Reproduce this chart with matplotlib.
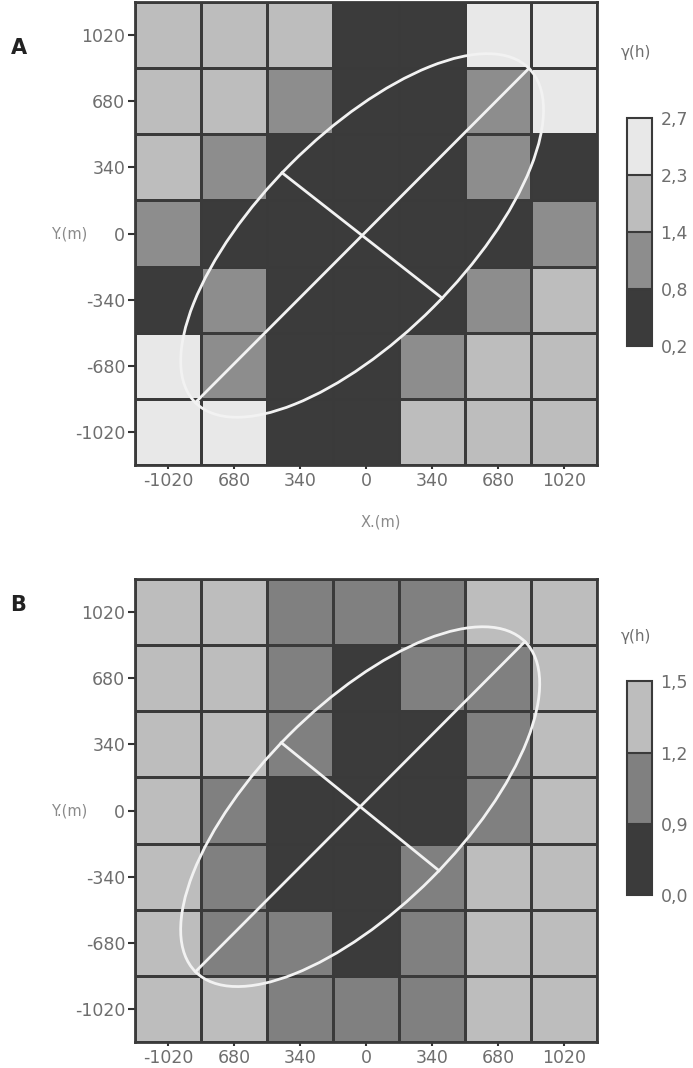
import numpy as np
import matplotlib
matplotlib.use("Agg")
import matplotlib.pyplot as plt
from matplotlib.colors import ListedColormap, BoundaryNorm
from matplotlib.patches import Ellipse

# ---------------- data ----------------
lags = [-1020, -680, -340, 0, 340, 680, 1020]
x_tick_labels = ["-1020", "680", "340", "0", "340", "680", "1020"]
y_tick_labels = ["-1020", "-680", "-340", "0", "340", "680", "1020"]

# Panel A: semivariogram surface gamma(h), rows from top (Y=1020) to bottom (Y=-1020)
gamma_A = [
    [1.85, 1.85, 1.85, 0.50, 0.50, 2.50, 2.50],
    [1.85, 1.85, 1.10, 0.50, 0.50, 1.10, 2.50],
    [1.85, 1.10, 0.50, 0.50, 0.50, 1.10, 0.50],
    [1.10, 0.50, 0.50, 0.50, 0.50, 0.50, 1.10],
    [0.50, 1.10, 0.50, 0.50, 0.50, 1.10, 1.85],
    [2.50, 1.10, 0.50, 0.50, 1.10, 1.85, 1.85],
    [2.50, 2.50, 0.50, 0.50, 1.85, 1.85, 1.85],
]
levels_A = [0.2, 0.8, 1.4, 2.3, 2.7]
level_labels_A = ["0,2", "0,8", "1,4", "2,3", "2,7"]

# Panel B
gamma_B = [
    [1.35, 1.35, 1.05, 1.05, 1.05, 1.35, 1.35],
    [1.35, 1.35, 1.05, 0.45, 1.05, 1.05, 1.35],
    [1.35, 1.35, 1.05, 0.45, 0.45, 1.05, 1.35],
    [1.35, 1.05, 0.45, 0.45, 0.45, 1.05, 1.35],
    [1.35, 1.05, 0.45, 0.45, 1.05, 1.35, 1.35],
    [1.35, 1.05, 1.05, 0.45, 1.05, 1.35, 1.35],
    [1.35, 1.35, 1.05, 1.05, 1.05, 1.35, 1.35],
]
levels_B = [0.0, 0.9, 1.2, 1.5]
level_labels_B = ["0,0", "0,9", "1,2", "1,5"]

# anisotropy ellipses: centre x, centre y, semi-major, semi-minor,
# major-axis angle (deg), drawn minor-axis line angle (deg)
ellipse_A = (-20, -10, 1215, 520, 45, 142)
ellipse_B = (-30, 20, 1200, 520, 45, 141)

# ---------------- style ----------------
colors_A = ["#3b3b3b", "#8d8d8d", "#bdbdbd", "#e8e8e8"]
colors_B = ["#3b3b3b", "#808080", "#bdbdbd"]
text_col = "#6e6e6e"
edge_col = "#3a3a3a"

plt.rcParams["font.family"] = ["DejaVu Sans"]

fig = plt.figure(figsize=(6.93, 10.68), dpi=100)


def radius(a, b, psi):
    return a * b / np.sqrt((b * np.cos(psi)) ** 2 + (a * np.sin(psi)) ** 2)


def panel(ax_rect, cb_rect, data, levels, level_labels, colors, ell, letter, letter_y, gamma_y, show_xlabel):
    ax = fig.add_axes(ax_rect)
    step = lags[1] - lags[0]
    edges = np.array([lags[0] - step / 2] + [v + step / 2 for v in lags])
    arr = np.array(data)[::-1]
    cmap = ListedColormap(colors)
    norm = BoundaryNorm(levels, cmap.N)
    ax.pcolormesh(edges, edges, arr, cmap=cmap, norm=norm,
                  edgecolors=edge_col, linewidth=1.8)
    ax.set_xlim(edges[0], edges[-1])
    ax.set_ylim(edges[0], edges[-1])
    ax.set_xticks(lags)
    ax.set_xticklabels(x_tick_labels)
    ax.set_yticks(lags)
    ax.set_yticklabels(y_tick_labels)
    ax.tick_params(axis="both", labelsize=12.5, labelcolor=text_col, color="#333333",
                   width=1.5, length=5, pad=2)
    ax.tick_params(axis="x", length=3)
    for s in ax.spines.values():
        s.set_color(edge_col)
        s.set_linewidth(2)

    cx, cy, a, b, ang, mang = ell
    e = Ellipse((cx, cy), 2 * a, 2 * b, angle=ang, fill=False,
                edgecolor="#f2f2f2", linewidth=2)
    ax.add_patch(e)
    t = np.deg2rad(ang)
    ax.plot([cx - a * np.cos(t), cx + a * np.cos(t)],
            [cy - a * np.sin(t), cy + a * np.sin(t)], color="#f2f2f2", lw=2)
    m = np.deg2rad(mang)
    r = radius(a, b, m - t)
    ax.plot([cx - r * np.cos(m), cx + r * np.cos(m)],
            [cy - r * np.sin(m), cy + r * np.sin(m)], color="#f2f2f2", lw=2)

    cax = fig.add_axes(cb_rect)
    sm = matplotlib.cm.ScalarMappable(norm=norm, cmap=cmap)
    cb = fig.colorbar(sm, cax=cax, boundaries=levels, ticks=levels, spacing="uniform")
    cb.set_ticklabels(level_labels)
    cb.outline.set_edgecolor(edge_col)
    cb.outline.set_linewidth(1.5)
    cax.tick_params(length=0, labelsize=12.5, labelcolor=text_col, pad=6)
    for lv in levels[1:-1]:
        cax.axhline(lv, color=edge_col, lw=1.5)

    fig.text(0.015, letter_y, letter, fontsize=15, fontweight="bold", color="#222222",
             va="center", ha="left")
    fig.text(0.918, gamma_y, "γ(h)", fontsize=11, color=text_col, va="center", ha="center")
    fig.text(0.10, ax_rect[1] + ax_rect[3] / 2, "Y.(m)", fontsize=10.5, color="#8a8a8a",
             va="center", ha="center")
    if show_xlabel:
        fig.text(0.55, ax_rect[1] - 0.053, "X.(m)", fontsize=10.5, color="#8a8a8a",
                 va="center", ha="center")
    return ax


panel([0.1948, 0.5646, 0.6667, 0.4335], [0.9048, 0.676, 0.0361, 0.2135],
      gamma_A, levels_A, level_labels_A, colors_A, ellipse_A, "A", 1 - 48 / 1068, 1 - 52 / 1068, True)
panel([0.1948, 0.0243, 0.6667, 0.4335], [0.9048, 0.162, 0.0361, 0.200],
      gamma_B, levels_B, level_labels_B, colors_B, ellipse_B, "B", 1 - 605 / 1068, 1 - 636 / 1068, False)

fig.savefig("out.png", dpi=100)
